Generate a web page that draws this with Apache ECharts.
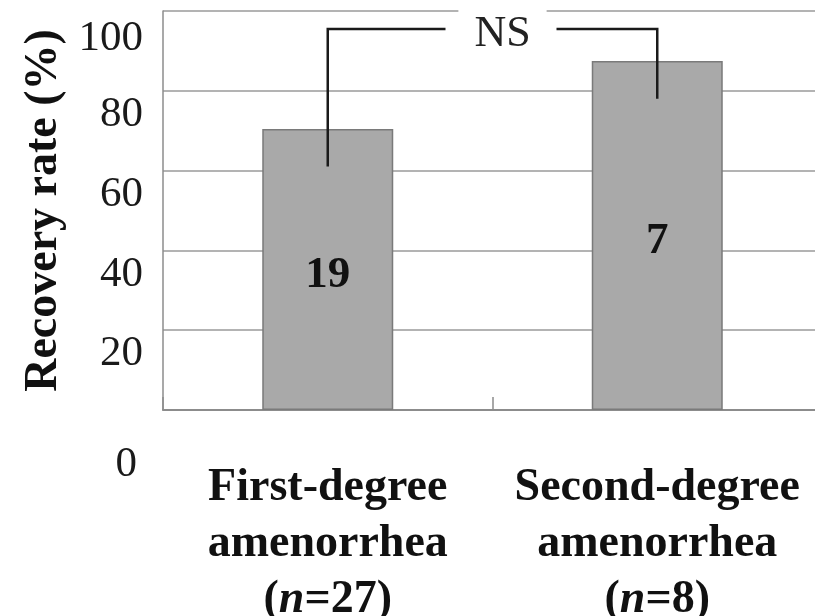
<!DOCTYPE html>
<html>
<head>
<meta charset="utf-8">
<script src="https://cdn.jsdelivr.net/npm/echarts@6/dist/echarts.min.js"></script>
<style>html,body{margin:0;padding:0;background:#fff;}#c{width:815px;height:616px;}</style>
</head>
<body>
<div id="c"></div>
<script>
// Data
var categories = ['First-degree amenorrhea', 'Second-degree amenorrhea'];
var groupN = [27, 8];
var recovered = [19, 7];
var recoveryRate = [70.4, 87.5];
var yTicks = [0, 20, 40, 60, 80, 100];
var bracket = [[0, 61, 1, 78, 95.5]]; // [leftCat, leftBottom, rightCat, rightBottom, top]
var bracketText = 'NS';

var FONT = "'Liberation Serif','Times New Roman',serif";
var chart = echarts.init(document.getElementById('c'));

function xLabel(value, idx) {
  var parts = value.split(' ');
  return '{b|' + parts[0] + '}\n{b|' + parts[1] + '}\n{b|(}{i|n}{b|=' + groupN[idx] + ')}';
}

chart.setOption({
  backgroundColor: '#fff',
  animation: false,
  grid: { left: 163, top: 11, width: 659, height: 399, outerBoundsMode: 'none', containLabel: false },
  xAxis: {
    type: 'category',
    data: categories,
    axisLine: { lineStyle: { color: '#8c8c8c', width: 2 } },
    axisTick: { show: true, inside: true, length: 13, lineStyle: { color: '#8c8c8c', width: 1.5 } },
    axisLabel: {
      interval: 0,
      margin: 50,
      formatter: xLabel,
      rich: {
        b: { fontFamily: FONT, fontSize: 46, fontWeight: 'bold', color: '#111', lineHeight: 56 },
        i: { fontFamily: FONT, fontSize: 46, fontWeight: 'bold', fontStyle: 'italic', color: '#111', lineHeight: 56 }
      }
    }
  },
  yAxis: {
    type: 'value',
    min: 0, max: 100, interval: 20,
    name: 'Recovery rate (%)',
    nameLocation: 'middle',
    nameGap: 96,
    nameTextStyle: { fontFamily: FONT, fontSize: 46, fontWeight: 'bold', color: '#111' },
    axisLine: { show: true, lineStyle: { color: '#8c8c8c', width: 1.5 } },
    axisTick: { show: false },
    splitLine: { lineStyle: { color: '#9a9a9a', width: 1.5 } },
    axisLabel: {
      margin: 20,
      formatter: function (v) {
        if (v === 0) return '{z|' + v + '}';
        if (v === 100) return '{h|' + v + '}';
        return '{a|' + v + '}';
      },
      rich: {
        a: { fontFamily: FONT, fontSize: 43, color: '#1a1a1a', padding: [48, 0, 0, 0] },
        h: { fontFamily: FONT, fontSize: 43, color: '#1a1a1a', padding: [56, 0, 0, 0] },
        z: { fontFamily: FONT, fontSize: 43, color: '#1a1a1a', padding: [110, 6, 0, 0] }
      }
    }
  },
  series: [
    {
      type: 'bar',
      data: recoveryRate,
      barWidth: 131,
      itemStyle: { color: '#a9a9a9', borderColor: '#7a7a7a', borderWidth: 1.5 },
      label: {
        show: true,
        position: 'inside',
        offset: [0, 6],
        formatter: function (p) { return String(recovered[p.dataIndex]); },
        fontFamily: FONT, fontSize: 45, fontWeight: 'bold', color: '#111'
      },
      z: 2
    },
    {
      type: 'custom',
      data: bracket,
      z: 5,
      renderItem: function (params, api) {
        var lb = api.coord([api.value(0), api.value(1)]);
        var lt = api.coord([api.value(0), api.value(4)]);
        var rb = api.coord([api.value(2), api.value(3)]);
        var rt = api.coord([api.value(2), api.value(4)]);
        var mid = (lt[0] + rt[0]) / 2;
        var st = { stroke: '#1a1a1a', lineWidth: 2.5, fill: null };
        return {
          type: 'group',
          children: [
            { type: 'polyline', shape: { points: [lb, lt, [mid - 47, lt[1]]] }, style: st },
            { type: 'polyline', shape: { points: [[mid + 64, rt[1]], rt, rb] }, style: st },
            {
              type: 'text',
              x: mid + 10, y: lt[1] + 5,
              style: {
                text: bracketText, fontFamily: FONT, fontSize: 44, fill: '#222',
                align: 'center', verticalAlign: 'middle',
                backgroundColor: '#fff', padding: [6, 16, 6, 16]
              }
            }
          ]
        };
      }
    }
  ]
});
</script>
</body>
</html>
